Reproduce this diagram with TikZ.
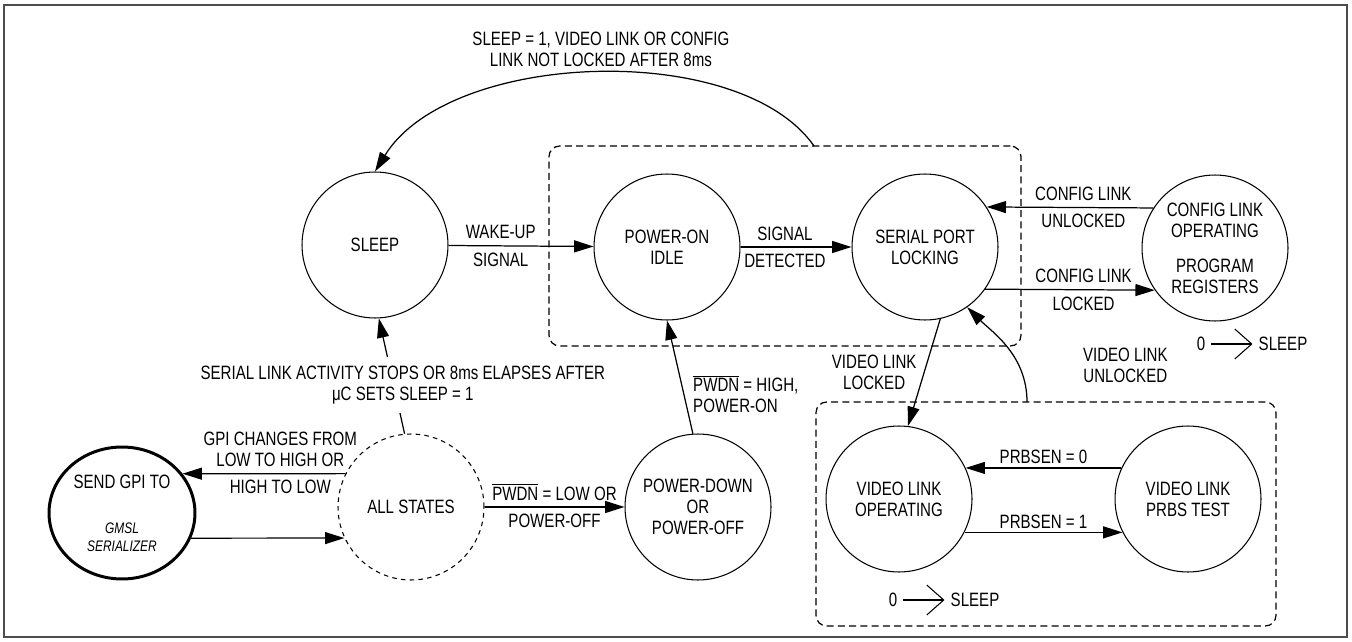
\documentclass[tikz,border=0pt]{standalone}
\usepackage{fontspec}
\setmainfont{Liberation Sans}[FakeStretch=0.78]
\usepackage{tikz}
\usetikzlibrary{positioning, arrows.meta, shapes}

\tikzstyle{stateNode}=[draw,circle,minimum size=2.92cm,inner sep=0pt,align=center,line width=0.6pt]
\tikzstyle{stateTransition}=[-{Triangle[length=11pt,width=6.8pt]}, line width=0.7pt]
\tikzstyle{edgeLabel}=[align=center, inner sep=3.5pt]
\tikzstyle{groupBox}=[draw, dash pattern=on 4pt off 2.4pt, rounded corners=6pt, line width=0.7pt, inner sep=0pt]
\tikzstyle{sleepArrow}=[-{Straight Barb[length=9.6pt,width=17pt]}, line width=0.6pt]
\newcommand{\pwdn}{$\overline{\hbox{PWDN}}$}

\begin{document}
\begin{tikzpicture}[x=0.02cm, y=-0.02cm, font=\fontsize{11}{12}\selectfont]

    \useasboundingbox (0,0) rectangle (1352,642);
    \draw[black!70, line width=1.1pt] (4,5) rectangle (1347,637);

    % boxes

    \node[groupBox, minimum width=9.44cm, minimum height=4cm] (lockBox) at (785,246) {};
    \node[groupBox, minimum width=9.2cm, minimum height=4.48cm] (videoBox) at (1046,514) {};
    \coordinate (lockTop) at (814,146);
    \coordinate (videoTop) at (1027,402);

    % nodes

    \node[stateNode] (sleep) at (375,245) {SLEEP};
    \node[stateNode] (powerOn) at (667,247) {POWER-ON\\IDLE};
    \node[stateNode] (serLock) at (925,247) {SERIAL PORT\\LOCKING};
    \node[stateNode] (cfgOp) at (1215,248) {CONFIG LINK\\OPERATING\\[8pt]PROGRAM\\REGISTERS};

    \node[stateNode, ellipse, minimum width=2.92cm, minimum height=2.64cm, line width=1.7pt] (gpi) at (122,513)
        {SEND GPI TO\\[14pt]{\fontsize{8.7}{10}\selectfont\itshape GMSL}\\[-2pt]{\fontsize{8.7}{10}\selectfont\itshape SERIALIZER}};
    \node[stateNode, dash pattern=on 2.6pt off 2.4pt] (allStates) at (411,507) {ALL STATES};
    \node[stateNode] (powerDown) at (698,507) {POWER-DOWN\\OR\\POWER-OFF};

    \node[stateNode] (vidOp) at (899,499) {VIDEO LINK\\OPERATING};
    \node[stateNode] (prbs) at (1188,499) {VIDEO LINK\\PRBS TEST};

    \node (zeroA) at (1201,344) {0};
    \node (sleepA) at (1283,344) {SLEEP};
    \node (zeroB) at (893,600) {0};
    \node (sleepB) at (975,600) {SLEEP};

    % transition

    \draw[stateTransition] (lockTop) .. controls (740,40) and (450,50) .. node[edgeLabel, above, xshift=0.12cm] {SLEEP = 1, VIDEO LINK OR CONFIG\\LINK NOT LOCKED AFTER 8ms} (sleep.90);

    \draw[stateTransition] (sleep) -- node[edgeLabel, above, pos=0.36] {WAKE-UP} node[edgeLabel, below, pos=0.36] {SIGNAL} (powerOn);
    \draw[stateTransition] (powerOn) -- node[edgeLabel, above, pos=0.4] {SIGNAL} node[edgeLabel, below, pos=0.4] {DETECTED} (serLock);
    \draw[stateTransition] (cfgOp.147) -- node[edgeLabel, above, pos=0.42] {CONFIG LINK} node[edgeLabel, below, pos=0.42] {UNLOCKED} (serLock.33);
    \draw[stateTransition] (serLock.-35) -- node[edgeLabel, above, pos=0.58] {CONFIG LINK} node[edgeLabel, below, pos=0.58] {LOCKED} (cfgOp.-145);

    \draw[stateTransition] (serLock.-78) -- node[edgeLabel, left, inner sep=4pt] {VIDEO LINK\\LOCKED} (vidOp.83);
    \draw[stateTransition] (videoTop) .. controls (1027,355) and (992,332) .. node[edgeLabel, pos=0.3, right=1.15cm] {VIDEO LINK\\UNLOCKED} (serLock.-55);

    \draw[stateTransition] (prbs.155) -- node[edgeLabel, above, inner sep=2pt] {PRBSEN = 0} (vidOp.25);
    \draw[stateTransition] (vidOp.-27) -- node[edgeLabel, above, inner sep=2pt] {PRBSEN = 1} (prbs.-153);

    \draw[stateTransition] (powerDown.94) -- node[edgeLabel, right, align=left, pos=0.35, inner sep=5pt] {\pwdn{} = HIGH,\\POWER-ON} (powerOn.-90);
    \draw[stateTransition] (allStates) -- node[edgeLabel, above] {\pwdn{} = LOW OR} node[edgeLabel, below] {POWER-OFF} (powerDown);

    \draw[stateTransition] (allStates.153) -- node[edgeLabel, above, pos=0.4] {GPI CHANGES FROM\\LOW TO HIGH OR} node[edgeLabel, below, pos=0.4] {HIGH TO LOW} (gpi.33.5);
    \draw[stateTransition] (gpi.-20.3) -- (allStates.205);

    \draw[stateTransition] (allStates.95) -- node[edgeLabel, fill=white, pos=0.42, xshift=0.18cm, inner sep=5pt] {SERIAL LINK ACTIVITY STOPS OR 8ms ELAPSES AFTER\\μC SETS SLEEP = 1} (sleep.-87);

    \draw[sleepArrow] (zeroA) -- (sleepA);
    \draw[sleepArrow] (zeroB) -- (sleepB);

\end{tikzpicture}
\end{document}
